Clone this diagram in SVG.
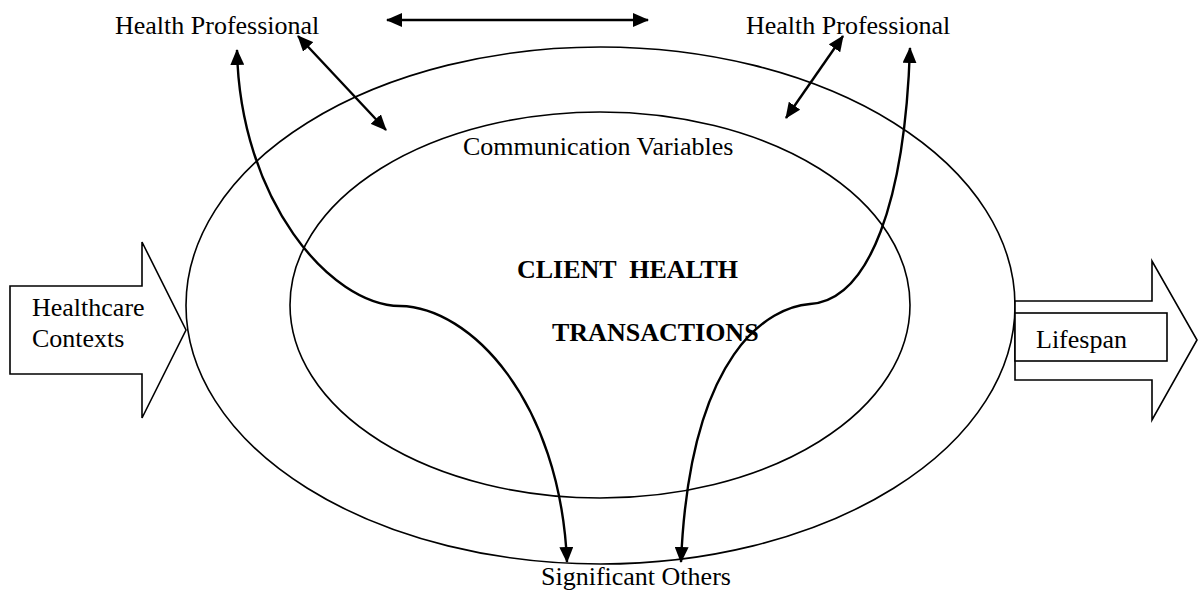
<svg xmlns="http://www.w3.org/2000/svg" width="1204" height="595" viewBox="0 0 1204 595">
<style>
.t{font-family:"Liberation Serif","Times New Roman",serif;font-size:26px;fill:#000}
.b{font-weight:bold}
.sh{fill:#fff;stroke:#000;stroke-width:1.6}
.el{fill:none;stroke:#000;stroke-width:1.6}
.c{fill:none;stroke:#000;stroke-width:2.4}
</style>
<defs>
<marker id="ah" viewBox="0 0 16 14" refX="15" refY="7" markerWidth="16" markerHeight="14" markerUnits="userSpaceOnUse" orient="auto-start-reverse">
<path d="M0,0 L16,7 L0,14 z" fill="#000"/>
</marker>
</defs>
<rect width="1204" height="595" fill="#fff"/>
<g id="outer-ellipse"><ellipse class="el" cx="600.5" cy="305.5" rx="414.5" ry="258.5"/></g>
<g id="inner-ellipse"><ellipse class="el" cx="600" cy="305" rx="310" ry="193"/></g>
<g id="healthcare-contexts">
<polygon class="sh" points="10,286 142,286 142,242 186,330 142,418 142,374 10,374"/>
<text class="t" x="32" y="316">Healthcare</text>
<text class="t" x="32" y="347">Contexts</text>
</g>
<g id="lifespan">
<polygon class="sh" points="1015,301 1152,301 1152,261 1197,340 1152,420 1152,380 1015,380"/>
<rect class="sh" x="1015" y="313" width="152" height="48"/>
<text class="t" x="1036" y="348">Lifespan</text>
</g>
<g id="hp-left"><text class="t" x="115" y="34">Health Professional</text></g>
<g id="hp-right"><text class="t" x="746" y="34">Health Professional</text></g>
<g id="comm-vars"><text class="t" x="463" y="155">Communication Variables</text></g>
<g id="client"><text class="t b" x="517" y="278" xml:space="preserve">CLIENT  HEALTH</text>
<text class="t b" x="552" y="341">TRANSACTIONS</text></g>
<g id="significant-others"><text class="t" x="541" y="585">Significant Others</text></g>
<g id="connectors">
<line class="c" x1="387" y1="20" x2="648" y2="20" marker-start="url(#ah)" marker-end="url(#ah)"/>
<line class="c" x1="298" y1="36" x2="386" y2="130" marker-start="url(#ah)" marker-end="url(#ah)"/>
<line class="c" x1="843" y1="36" x2="786" y2="118" marker-start="url(#ah)" marker-end="url(#ah)"/>
<path class="c" d="M567,562 C560,400 470,307 400,306 C330,305 240,200 237,50" marker-start="url(#ah)" marker-end="url(#ah)"/>
<path class="c" d="M681,562 C690,350 770,307 810,304 C870,300 905,200 910,48" marker-start="url(#ah)" marker-end="url(#ah)"/>
</g>
</svg>
